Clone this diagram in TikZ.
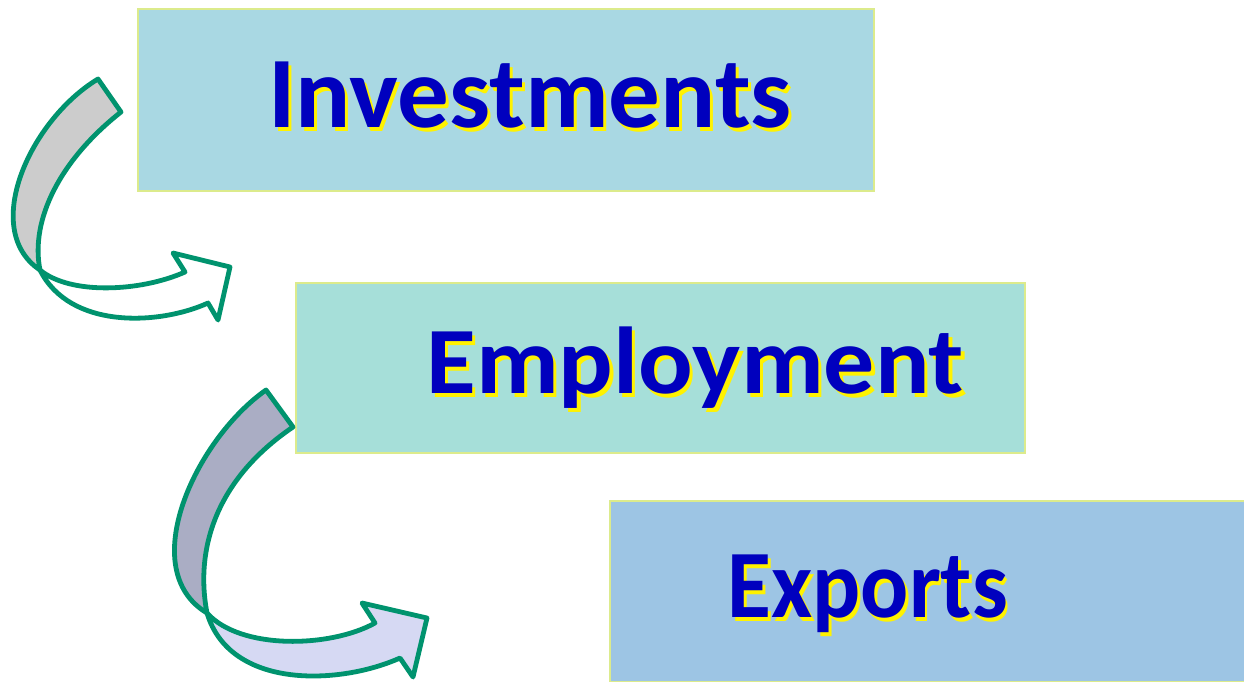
\documentclass[tikz,border=0pt]{standalone}
\usepackage{fontspec}
\setmainfont{Carlito}
\usepackage{xcolor}
\usepackage{graphicx}
\usetikzlibrary{positioning}

\definecolor{invfill}{HTML}{A9D8E3}
\definecolor{empfill}{HTML}{A6DFD9}
\definecolor{expfill}{HTML}{9DC5E4}
\definecolor{boxline}{HTML}{DCEB8C}
\definecolor{textblue}{HTML}{0000BE}
\definecolor{arrowline}{HTML}{00936E}
\definecolor{bandgray}{HTML}{CCCCCC}
\definecolor{bandslate}{HTML}{AAADC4}
\definecolor{bandlilac}{HTML}{D6D9F3}

% yellow drop shadow behind a word
\newcommand{\glowword}[1]{\makebox[0pt][l]{\hspace{1.5pt}\raisebox{-2pt}{\textcolor{yellow}{#1}}}#1}

\begin{document}
\begin{tikzpicture}[x=0.5pt, y=-0.5pt,
    panel/.style={draw=boxline, line width=0.8pt, inner sep=0pt, anchor=north west},
    word/.style={anchor=base west, inner sep=0pt, text=textblue, font=\bfseries},
    band/.style={draw=arrowline, line width=2.4pt, line join=round}]
    \useasboundingbox (0,0) rectangle (1244,681);

    % Boxes
    \node[panel, fill=invfill, minimum width=368pt, minimum height=91pt] (inv) at (137,8) {};
    \node[panel, fill=empfill, minimum width=364.5pt, minimum height=85pt] (emp) at (295,282) {};
    \node[panel, fill=expfill, minimum width=317.5pt, minimum height=90.5pt] (exp) at (609,500) {};

    % Labels
    \node[word, font=\fontsize{50.6}{50}\bfseries] (invtxt) at (268,127) {\scalebox{1.018}[1]{\glowword{Investments}}};
    \node[word, font=\fontsize{47.5}{48}\bfseries] (emptxt) at (426,393) {\scalebox{1.072}[1]{\glowword{Employment}}};
    \node[word, font=\fontsize{48.3}{48}\bfseries] (exptxt) at (727,617) {\scalebox{0.93}[1]{\glowword{Exports}}};

    % Curved arrow from Investments to Employment
    \coordinate (a1) at (40,270);
    \draw[band, fill=bandgray] (98,79) .. controls (30,120) and (-20,230) .. (a1)
        .. controls (30,220) and (60,160) .. (121,112) -- cycle;
    \draw[band, fill=white] (a1) .. controls (70,295) and (140,292) .. (185,272)
        -- (173,253) -- (230,267) -- (218,320) -- (208,303)
        .. controls (160,325) and (70,330) .. (a1);

    % Curved arrow from Employment to Exports
    \coordinate (a2) at (207,613);
    \draw[band, fill=bandslate] (266,390) .. controls (195,440) and (135,570) .. (a2)
        .. controls (195,550) and (215,480) .. (293,427) -- cycle;
    \draw[band, fill=bandlilac] (a2) .. controls (240,650) and (330,648) .. (375,623)
        -- (362,603) -- (427,618) -- (413,677) -- (400,658)
        .. controls (340,685) and (230,690) .. (a2);
\end{tikzpicture}
\end{document}
